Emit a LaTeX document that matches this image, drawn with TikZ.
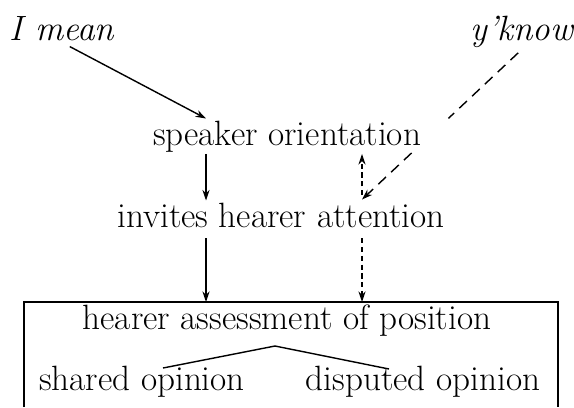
\documentclass[tikz,border=0pt]{standalone}
\usetikzlibrary{arrows.meta,calc}
\begin{document}
\begin{tikzpicture}
% Figure laid out on the pixel grid of the scan
\def\pxsz{0.02cm}
\providecommand{\linkLineWidth}{0.8pt}
\providecommand{\frameLineWidth}{1.1pt}
\providecommand{\labelFont}{\fontsize{20}{24}\selectfont}
\begin{scope}[x=\pxsz, y=-\pxsz, line cap=butt,
  every node/.style={inner sep=1pt, anchor=base, font=\labelFont},
  link/.style={line width=\linkLineWidth, -{Stealth[length=6pt,width=4pt]}},
  dlink/.style={link, dash pattern=on 3pt off 2pt},
  longdash/.style={line width=\linkLineWidth, dash pattern=on 6pt off 4pt},
  branch/.style={line width=\linkLineWidth}]
  \useasboundingbox (0,0) rectangle (574,407);
  % Columns of the vertical arrows
  \coordinate (colL) at (206,0);
  \coordinate (colR) at (362,0);
  % Markers
  \node[font=\labelFont\itshape] (imean) at (62,40) {I mean};
  \node[font=\labelFont\itshape] (yknow) at (522,40) {y'know};
  % Levels
  \node (speaker) at (287,145) {speaker orientation};
  \node (invites) at (281,227) {invites hearer attention};
  \node (hearer) at (287,329) {hearer assessment of position};
  \node (shared) at (142,390) {shared opinion};
  \node (disputed) at (423,390) {disputed opinion};
  % Frame, open at the bottom
  \coordinate (boxBL) at (24,407);
  \coordinate (boxTL) at (24,302);
  \coordinate (boxTR) at (558,302);
  \coordinate (boxBR) at (558,407);
  \draw[line width=\frameLineWidth] (boxBL) -- (boxTL) -- (boxTR) -- (boxBR);
  % Solid path
  \draw[link, shorten <=5pt] (imean.south) -- (speaker.north -| colL);
  \draw[link] (speaker.south -| colL) -- (invites.north -| colL);
  \draw[link, shorten <=5pt] (invites.south -| colL) -- (boxTL -| colL);
  % Dashed path
  \coordinate (yktip) at ($(invites.north -| colR)+(0,-1)$);
  \coordinate (ykbreakA) at ($(yknow.south)!0.46!(yktip)$);
  \coordinate (ykbreakB) at ($(yknow.south)!0.69!(yktip)$);
  \draw[longdash, shorten <=3pt] (yknow.south) -- (ykbreakA);
  \draw[longdash, -{Stealth[length=6pt,width=4pt]}] (ykbreakB) -- (yktip);
  \draw[dlink, shorten <=3pt] (invites.north -| colR) -- (speaker.south -| colR);
  \draw[dlink, shorten <=5pt] (invites.south -| colR) -- (boxTL -| colR);
  % Fork under the assessment
  \coordinate (fork) at (275,346);
  \coordinate (sharedEnd) at (163,368);
  \coordinate (disputedEnd) at (389,369);
  \draw[branch] (sharedEnd) -- (fork) -- (disputedEnd);
\end{scope}
\end{tikzpicture}
\end{document}
